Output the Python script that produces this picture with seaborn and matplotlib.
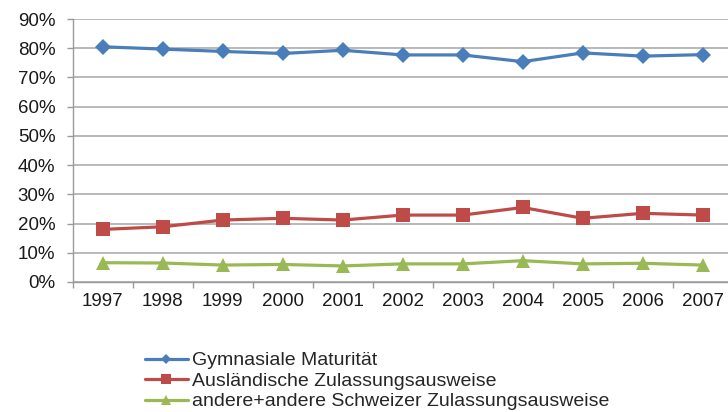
import numpy as np
import pandas as pd
import seaborn as sns
import matplotlib.pyplot as plt
from matplotlib.ticker import FixedLocator, PercentFormatter

# values, in percent
years = ["1997", "1998", "1999", "2000", "2001", "2002", "2003", "2004", "2005", "2006", "2007"]
gymnasiale = [80.5, 79.7, 78.9, 78.2, 79.3, 77.7, 77.7, 75.4, 78.4, 77.3, 77.8]
auslaendische = [18.0, 18.9, 21.2, 21.8, 21.2, 22.9, 22.9, 25.5, 21.8, 23.5, 22.9]
andere = [6.6, 6.5, 5.8, 6.0, 5.5, 6.2, 6.2, 7.3, 6.2, 6.4, 5.8]

labels = ["Gymnasiale Maturität",
          "Ausländische Zulassungsausweise",
          "andere+andere Schweizer Zulassungsausweise"]
colors = ["#4a7ebb", "#be4b48", "#98b954"]
markers = ["D", "s", "^"]
msizes = [8, 10, 10]

sns.set_theme(style="white")
plt.rcParams["font.family"] = ["Liberation Sans", "DejaVu Sans"]

rows = []
for lab, vals in zip(labels, [gymnasiale, auslaendische, andere]):
    for i, v in enumerate(vals):
        rows.append({"pos": i, "year": years[i], "value": v, "series": lab})
df = pd.DataFrame(rows)

fig = plt.figure(figsize=(7.28, 4.12), dpi=100)
ax = fig.add_axes([72.7 / 728, 1 - 282 / 412, 660 / 728, 263 / 412])

for lab, col, mk, ms in zip(labels, colors, markers, msizes):
    sub = df[df["series"] == lab]
    sns.lineplot(data=sub, x="pos", y="value", ax=ax, color=col, marker=mk,
                 markersize=ms, markeredgewidth=0, linewidth=2.3, label=lab)

ax.set_xlim(-0.5, len(years) - 0.5)
ax.set_ylim(0, 90)
ax.yaxis.set_major_locator(FixedLocator(np.arange(0, 91, 10)))
ax.yaxis.set_major_formatter(PercentFormatter(decimals=0))
ax.set_xticks(range(len(years)))
ax.set_xticklabels(years)
ax.xaxis.set_minor_locator(FixedLocator(np.arange(-0.5, len(years), 1)))
ax.set_xlabel("")
ax.set_ylabel("")

ax.grid(axis="y", color="#a6a6a6", linewidth=1.1)
ax.set_axisbelow(True)
for s in ["top", "right"]:
    ax.spines[s].set_visible(False)
for s in ["left", "bottom"]:
    ax.spines[s].set_color("#9a9a9a")
    ax.spines[s].set_linewidth(1.0)

ax.tick_params(axis="y", which="major", left=True, length=4.5, width=1.0,
               color="#9a9a9a", pad=8, labelsize=13.5, labelcolor="#1a1a1a")
ax.tick_params(axis="x", which="major", bottom=False, length=0, pad=8,
               labelsize=13.5, labelcolor="#1a1a1a")
ax.tick_params(axis="x", which="minor", bottom=True, length=4, width=1.0,
               color="#9a9a9a")

ax.legend_.remove()
handles, leg_labels = ax.get_legend_handles_labels()
fig.legend(handles, leg_labels, loc="upper left", bbox_to_anchor=(137 / 728, 1 - 344 / 412),
           frameon=False, fontsize=14, handlelength=2.2, handletextpad=0.25,
           labelspacing=0.15, borderaxespad=0, markerscale=0.65)

fig.savefig("out.png", dpi=100)
